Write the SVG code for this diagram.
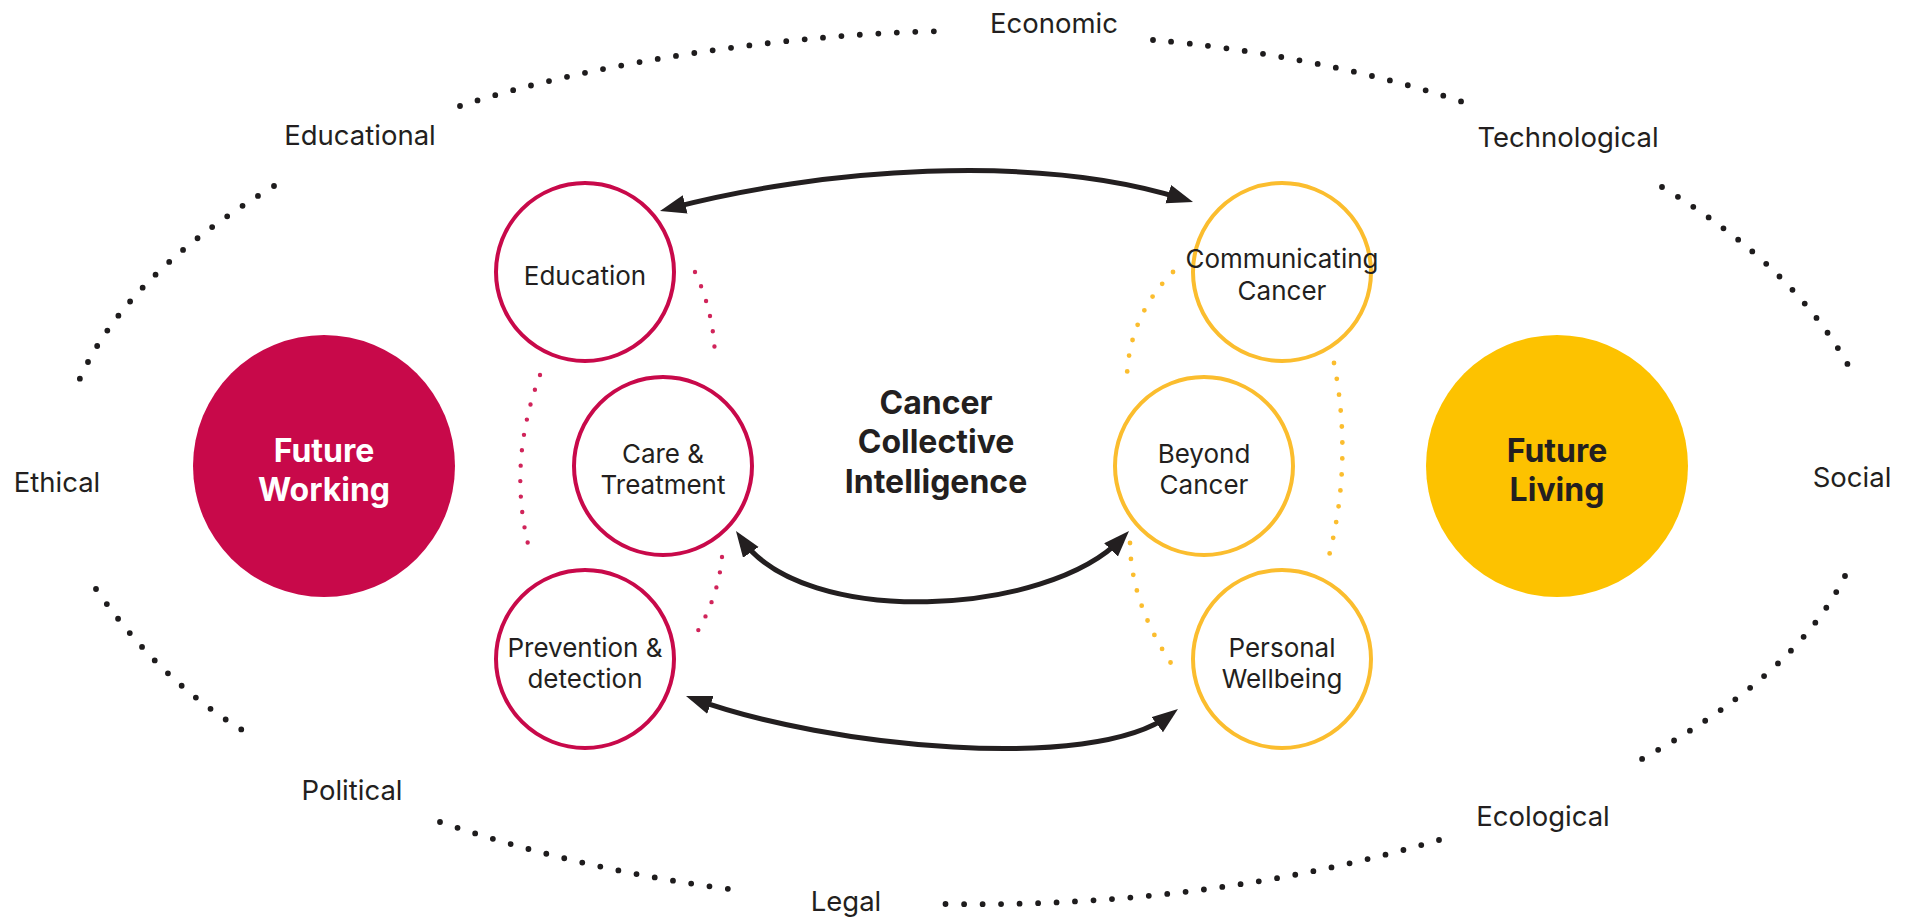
<svg xmlns="http://www.w3.org/2000/svg" width="1905" height="919" viewBox="0 0 1905 919">
<style>
.lbl{font-family:Inter,"Liberation Sans",sans-serif;font-size:26px;fill:#231f20;text-anchor:middle}
.olbl{font-family:Inter,"Liberation Sans",sans-serif;font-size:27.5px;fill:#231f20;text-anchor:middle}
.big{font-family:Inter,"Liberation Sans",sans-serif;font-size:32px;font-weight:700;text-anchor:middle}
.ring-r{fill:#fff;stroke:#c8094a;stroke-width:4}
.ring-y{fill:#fff;stroke:#fbbd2e;stroke-width:4}
.outer{fill:none;stroke:#1e1c1d;stroke-width:5.8;stroke-linecap:round;stroke-dasharray:0 18.5}
.dot-r{fill:none;stroke:#d0245a;stroke-width:4.4;stroke-linecap:round;stroke-dasharray:0 15.5}
.dot-y{fill:none;stroke:#fbbd2e;stroke-width:4.8;stroke-linecap:round;stroke-dasharray:0 16}
.arrow{fill:none;stroke:#231f20;stroke-width:5;marker-start:url(#head);marker-end:url(#head)}
</style>
<defs>
<marker id="head" markerUnits="userSpaceOnUse" markerWidth="28" markerHeight="22" refX="16" refY="9.5" orient="auto-start-reverse">
<path d="M0,0 L26,9.5 L0,19 Z" fill="#231f20"/>
</marker>
</defs>
<rect width="1905" height="919" fill="#fff"/>

<g id="outer-ring">
<path class="outer" d="M460,106 C600,60 800,33 949,31"/>
<path class="outer" d="M1153,40 C1250,48 1380,72 1477,107"/>
<path class="outer" d="M1662,187 Q1800,270 1855,378"/>
<path class="outer" d="M1845,576 Q1794,679 1627,767"/>
<path class="outer" d="M1439,840 Q1208,908 945,904"/>
<path class="outer" d="M440,822 Q587,872 745,891"/>
<path class="outer" d="M96,589 Q164,687 256,738"/>
<path class="outer" d="M274,186 Q116,281 74,393"/>
</g>

<g id="inner-dots">
<path class="dot-r" d="M695,272 Q715,315 715,362"/>
<path class="dot-r" d="M540,375 Q508,461 528,544"/>
<path class="dot-r" d="M722,557 Q718,601 691,642"/>
<path class="dot-y" d="M1173,272 Q1130,315 1127,375"/>
<path class="dot-y" d="M1334,363 Q1353,461 1329,556"/>
<path class="dot-y" d="M1130,543 Q1131,607 1177,672"/>
</g>

<g id="outer-labels">
<text class="olbl" x="1054" y="33">Economic</text>
<text class="olbl" x="360" y="145">Educational</text>
<text class="olbl" x="1568" y="147">Technological</text>
<text class="olbl" x="57" y="492">Ethical</text>
<text class="olbl" x="1852" y="487">Social</text>
<text class="olbl" x="352" y="800">Political</text>
<text class="olbl" x="846" y="911">Legal</text>
<text class="olbl" x="1543" y="826">Ecological</text>
</g>

<g id="future-working">
<circle cx="324" cy="466" r="131" fill="#c8094a"/>
<text class="big" x="324" y="462" fill="#fff">Future</text>
<text class="big" x="324" y="501" fill="#fff">Working</text>
</g>
<g id="future-living">
<circle cx="1557" cy="466" r="131" fill="#fdc200"/>
<text class="big" x="1557" y="462" fill="#231f20">Future</text>
<text class="big" x="1557" y="501" fill="#231f20">Living</text>
</g>

<g id="center-title">
<text class="big" x="936" y="414" fill="#231f20">Cancer</text>
<text class="big" x="936" y="453" fill="#231f20">Collective</text>
<text class="big" x="936" y="493" fill="#231f20">Intelligence</text>
</g>

<g id="education">
<circle class="ring-r" cx="585" cy="272" r="89"/>
<text class="lbl" x="585" y="285">Education</text>
</g>
<g id="care-treatment">
<circle class="ring-r" cx="663" cy="466" r="89"/>
<text class="lbl" x="663" y="463">Care &amp;</text>
<text class="lbl" x="663" y="494">Treatment</text>
</g>
<g id="prevention-detection">
<circle class="ring-r" cx="585" cy="659" r="89"/>
<text class="lbl" x="585" y="657">Prevention &amp;</text>
<text class="lbl" x="585" y="688">detection</text>
</g>

<g id="communicating-cancer">
<circle class="ring-y" cx="1282" cy="272" r="89"/>
<text class="lbl" x="1282" y="268">Communicating</text>
<text class="lbl" x="1282" y="300">Cancer</text>
</g>
<g id="beyond-cancer">
<circle class="ring-y" cx="1204" cy="466" r="89"/>
<text class="lbl" x="1204" y="463">Beyond</text>
<text class="lbl" x="1204" y="494">Cancer</text>
</g>
<g id="personal-wellbeing">
<circle class="ring-y" cx="1282" cy="659" r="89"/>
<text class="lbl" x="1282" y="657">Personal</text>
<text class="lbl" x="1282" y="688">Wellbeing</text>
</g>

<g id="connectors">
<path class="arrow" d="M669.7,208.4 C819.6,168.9 1035.8,152.2 1183.5,199"/>
<path class="arrow" d="M741.7,539.2 C804,628.5 1047,617 1122.1,538.3"/>
<path class="arrow" d="M695.4,699.4 C827,747.3 1092.5,773.4 1170,715"/>
</g>
</svg>
